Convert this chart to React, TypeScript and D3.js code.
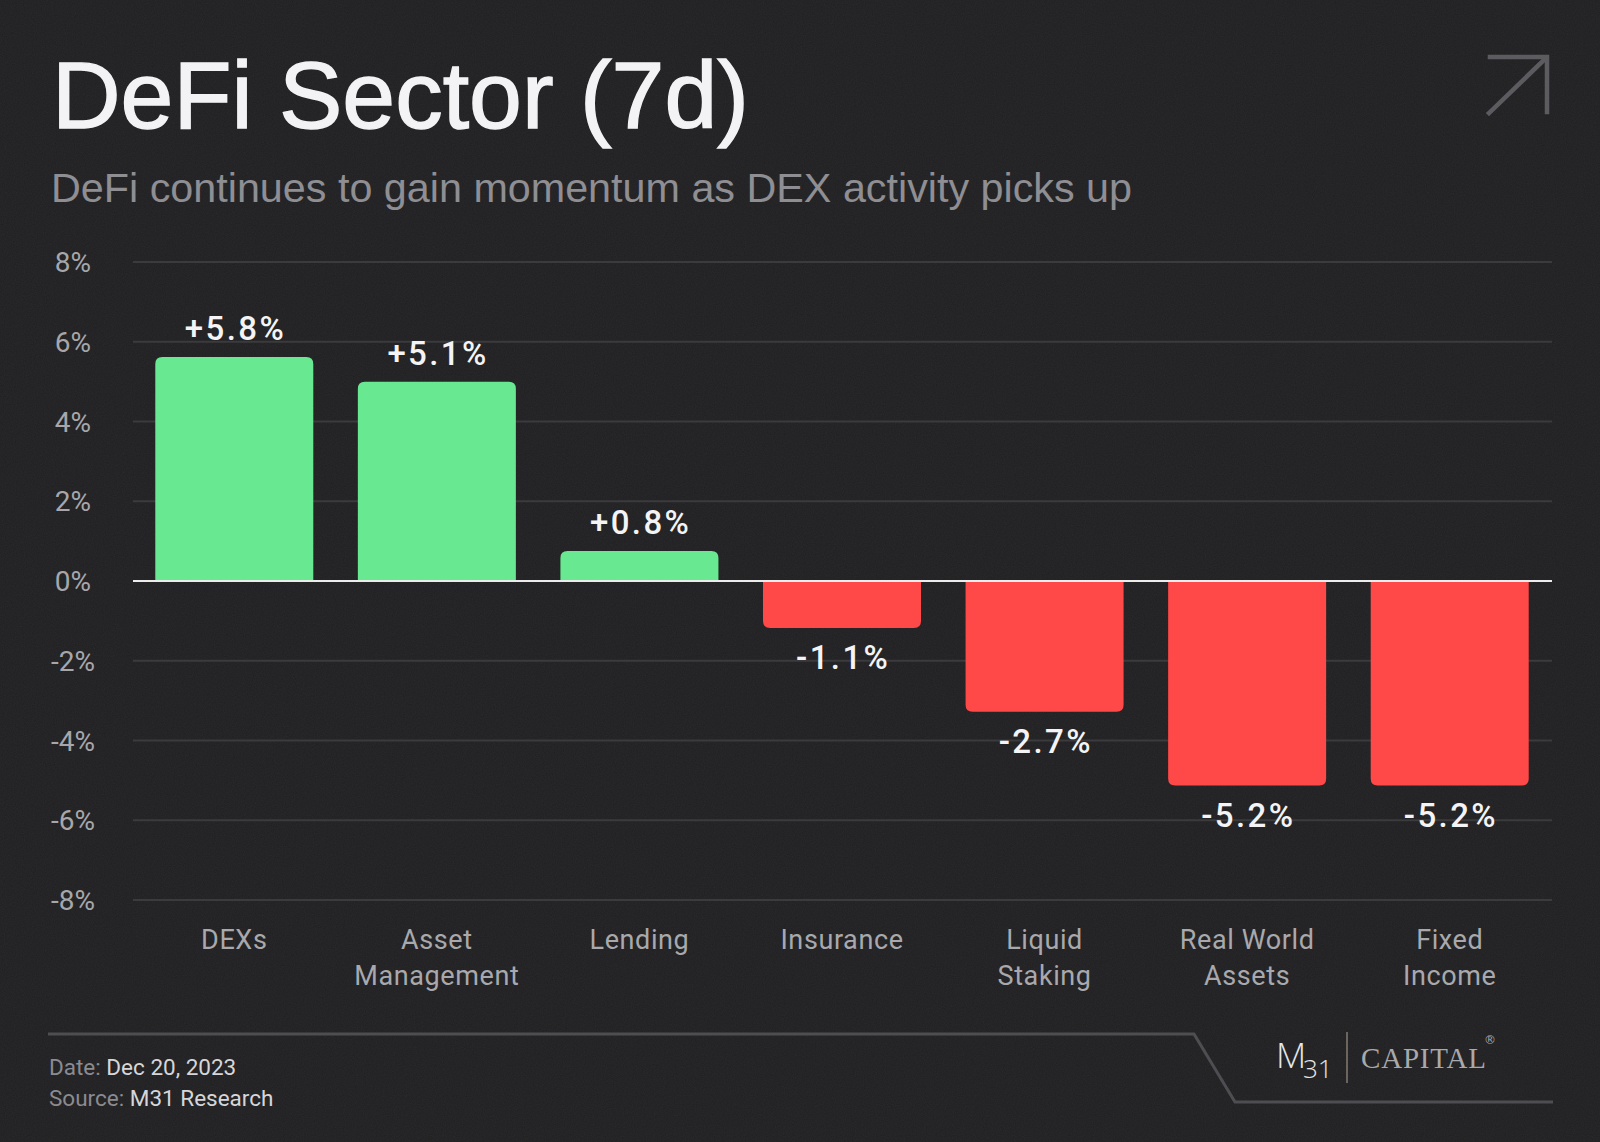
import * as d3 from 'd3';

// categories and values (bar heights, labels as printed)
const categories = ['DEXs', 'Asset\nManagement', 'Lending', 'Insurance', 'Liquid\nStaking', 'Real World\nAssets', 'Fixed\nIncome'];
const barValues = [5.62, 5.0, 0.75, -1.18, -3.28, -5.13, -5.13];
const valueLabels = ['+5.8%', '+5.1%', '+0.8%', '-1.1%', '-2.7%', '-5.2%', '-5.2%'];
const yTicks = [8, 6, 4, 2, 0, -2, -4, -6, -8];

const W = 1600;
const H = 1142;
const GREEN = '#68e891';
const RED = '#ff4848';
const AXIS_FONT = 'Roboto, "Noto Sans", sans-serif';

// rounded only on the far end of the bar
const barPath = (x: number, w: number, y0: number, y1: number, r: number) => {
    if (y1 < y0) {
        // positive bar, going up
        return `M${x},${y0} L${x},${y1 + r} Q${x},${y1} ${x + r},${y1} L${x + w - r},${y1} Q${x + w},${y1} ${x + w},${y1 + r} L${x + w},${y0} Z`;
    }
    return `M${x},${y0} L${x},${y1 - r} Q${x},${y1} ${x + r},${y1} L${x + w - r},${y1} Q${x + w},${y1} ${x + w},${y1 - r} L${x + w},${y0} Z`;
};

const App = () => {
    const x = d3.scaleBand<string>()
        .domain(categories)
        .range([133, 1551])
        .paddingInner(0.22)
        .paddingOuter(0.11);

    const y = d3.scaleLinear()
        .domain([-8, 8])
        .range([900, 262]);

    const y0 = y(0);

    return (
        <svg width={W} height={H} style={{ position: 'absolute', left: 0, top: 0 }}>
            <defs>
                <filter id="grain" x="0" y="0" width="100%" height="100%">
                    <feTurbulence type="fractalNoise" baseFrequency="0.9" numOctaves="2" stitchTiles="stitch" />
                    <feColorMatrix type="matrix" values="0 0 0 0 1  0 0 0 0 1  0 0 0 0 1  0 0 0 0.05 0" />
                </filter>
            </defs>
            <rect width={W} height={H} fill="#1f1f21" />
            <rect width={W} height={H} filter="url(#grain)" />

            {/* title */}
            <text x={52} y={128} fill="#f3f3f5" stroke="#f3f3f5" strokeWidth={1.4}
                style={{ font: '95px "Liberation Sans", Arial, sans-serif' }}>DeFi Sector (7d)</text>
            <text x={51} y={202} fill="#8e8e93"
                style={{ font: '41.3px "Liberation Sans", Arial, sans-serif' }}>DeFi continues to gain momentum as DEX activity picks up</text>

            {/* corner arrow */}
            <g stroke="#5c5c60" strokeWidth={4.5} fill="none" strokeLinecap="square">
                <path d="M1490,57 L1547,57 L1547,112" />
                <path d="M1489,113 L1545,59" />
            </g>

            {/* grid + y ticks */}
            {yTicks.map(t => (
                <g key={t}>
                    {t !== 0 && (
                        <line x1={133} x2={1552} y1={y(t)} y2={y(t)} stroke="#3b3b3e" strokeWidth={2} />
                    )}
                    <text x={73} y={y(t)} dy="0.36em" textAnchor="middle" fill="#a7a7ab"
                        style={{ font: `28px ${AXIS_FONT}` }}>{t}%</text>
                </g>
            ))}

            {/* bars */}
            {categories.map((c, i) => {
                const v = barValues[i];
                const bx = x(c) as number;
                const bw = x.bandwidth();
                return (
                    <path key={c} d={barPath(bx, bw, y0, y(v), 7)} fill={v >= 0 ? GREEN : RED} />
                );
            })}

            <line x1={133} x2={1552} y1={y0} y2={y0} stroke="#ececec" strokeWidth={2} />

            {/* value labels */}
            {categories.map((c, i) => {
                const v = barValues[i];
                const cx = (x(c) as number) + x.bandwidth() / 2 + 1.2;
                const ty = v >= 0 ? y(v) - 17 : y(v) + 41;
                return (
                    <text key={c} x={cx} y={ty} textAnchor="middle" fill="#f4f4f6"
                        letterSpacing={2.4}
                        style={{ font: `500 33px ${AXIS_FONT}` }}>{valueLabels[i]}</text>
                );
            })}

            {/* category labels */}
            {categories.map(c => {
                const cx = (x(c) as number) + x.bandwidth() / 2;
                return (
                    <text key={c} x={cx} y={949} textAnchor="middle" fill="#a9a9ad"
                        letterSpacing={0.6}
                        style={{ font: `27px ${AXIS_FONT}` }}>
                        {c.split('\n').map((line, j) => (
                            <tspan key={j} x={cx} dy={j === 0 ? 0 : 36}>{line}</tspan>
                        ))}
                    </text>
                );
            })}

            {/* footer */}
            <path d="M48,1034 L1194,1034 L1235,1102 L1553,1102" stroke="#4e4e52" strokeWidth={3} fill="none" />
            <text x={49} y={1075} style={{ font: `22.5px ${AXIS_FONT}` }}>
                <tspan fill="#8b8b90">Date: </tspan>
                <tspan fill="#d6d6da">Dec 20, 2023</tspan>
            </text>
            <text x={49} y={1106} style={{ font: `22.5px ${AXIS_FONT}` }}>
                <tspan fill="#8b8b90">Source: </tspan>
                <tspan fill="#d6d6da">M31 Research</tspan>
            </text>

            {/* logo */}
            <text x={1276} y={1068} fill="#e6e6e8" style={{ font: '300 35px "Open Sans", "Noto Sans", sans-serif' }}>M</text>
            <text x={1303} y={1078} fill="#e6e6e8" style={{ font: '300 26px "Open Sans", "Noto Sans", sans-serif' }}>31</text>
            <line x1={1347} x2={1347} y1={1032} y2={1083} stroke="#857b72" strokeWidth={1.5} />
            <text x={1361} y={1068} fill="#a9a9ab" letterSpacing={0.8}
                style={{ font: '29px "Liberation Serif", "Times New Roman", serif' }}>CAPITAL</text>
            <text x={1484} y={1044} fill="#a9a9ab" style={{ font: '12px "DejaVu Sans", sans-serif' }}>®</text>
        </svg>
    );
};

export default App;
